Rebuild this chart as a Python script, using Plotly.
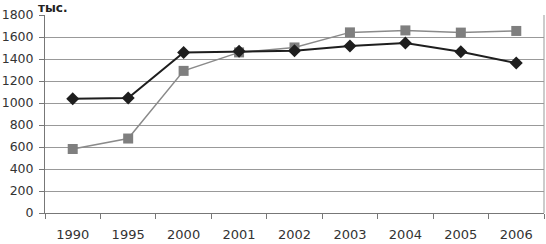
import plotly.graph_objects as go

years = ["1990", "1995", "2000", "2001", "2002", "2003", "2004", "2005", "2006"]
series_a = [1038, 1045, 1460, 1470, 1476, 1518, 1545, 1466, 1363]
series_b = [582, 677, 1292, 1460, 1505, 1642, 1660, 1640, 1655]
y_ticks = [0, 200, 400, 600, 800, 1000, 1200, 1400, 1600, 1800]

fig = go.Figure()
fig.add_trace(go.Scatter(
    x=years, y=series_b, mode="lines+markers",
    line=dict(color="#8a8a8a", width=1.5),
    marker=dict(symbol="square", size=10, color="#7f7f7f"),
    showlegend=False,
))
fig.add_trace(go.Scatter(
    x=years, y=series_a, mode="lines+markers",
    line=dict(color="#1e1e1e", width=2),
    marker=dict(symbol="diamond", size=10, color="#1e1e1e"),
    showlegend=False,
))

fig.update_layout(
    width=546, height=244,
    margin=dict(l=45, r=2, t=15, b=27),
    paper_bgcolor="white", plot_bgcolor="white",
    font=dict(family="DejaVu Sans", size=12.5, color="#333333"),
    xaxis=dict(
        type="category", tickson="boundaries", ticks="outside", ticklen=5,
        tickcolor="#777777", showline=True, linecolor="#777777", linewidth=1,
        mirror=False, showgrid=False, range=[-0.5, 8.5],
        tickfont=dict(family="DejaVu Sans", size=13, color="#333333"),
        ticklabelstandoff=9,
    ),
    yaxis=dict(
        range=[0, 1800], tickvals=y_ticks, ticks="outside", ticklen=5,
        tickcolor="#777777", showline=True, linecolor="#777777", linewidth=1,
        gridcolor="#999999", gridwidth=1, zeroline=False,
        tickfont=dict(family="DejaVu Sans", size=12.5, color="#333333"),
        ticklabelstandoff=3,
    ),
    shapes=[dict(type="line", xref="paper", yref="paper", x0=1, x1=1, y0=0, y1=1,
                 line=dict(color="#999999", width=1))],
    annotations=[dict(text="<b>тыс.</b>", xref="paper", yref="paper",
                      x=-8/499, y=1.0, xanchor="left", yanchor="bottom",
                      showarrow=False, yshift=-1, borderpad=0,
                      font=dict(family="DejaVu Sans", size=12, color="#222222"))],
)

fig.write_html("out.html", config={"displayModeBar": False},
               post_script="document.body.style.margin='0';document.body.style.overflow='hidden';")
